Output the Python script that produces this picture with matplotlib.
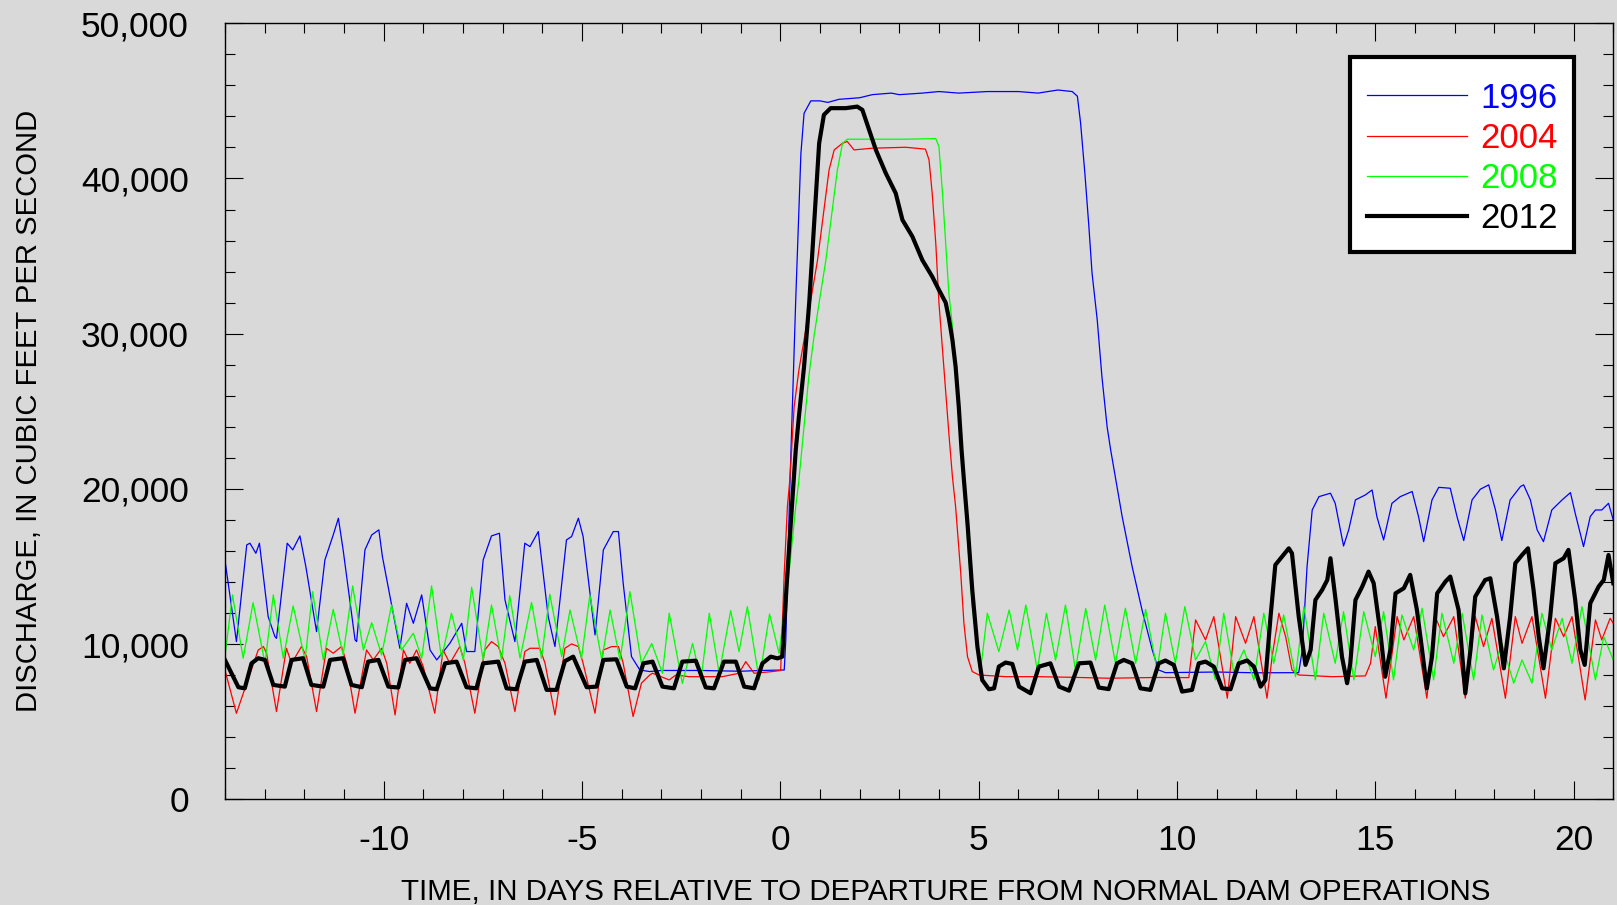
import matplotlib.pyplot as plt
from matplotlib.ticker import MultipleLocator, FuncFormatter

plt.rcParams['font.family'] = ['Liberation Sans', 'DejaVu Sans']
plt.rcParams['axes.unicode_minus'] = False

# values (days, cubic feet per second)
t_1996 = [-14.0, -13.71, -13.45, -13.37, -13.22, -13.13, -12.91, -12.74, -12.70, -12.43,
          -12.29, -12.11, -11.96, -11.69, -11.48, -11.27, -11.14, -11.02, -10.72, -10.68,
          -10.47, -10.30, -10.12, -10.03, -9.59, -9.42, -9.25, -9.04, -8.83, -8.66,
          -8.33, -8.03, -7.91, -7.70, -7.49, -7.28, -7.08, -6.94, -6.69, -6.44,
          -6.31, -6.10, -5.85, -5.68, -5.39, -5.26, -5.09, -4.97, -4.67, -4.46,
          -4.21, -4.08, -3.96, -3.75, -3.54, -3.29, -3.0, -2.0, -1.0, -0.5,
          0.10, 0.14, 0.24, 0.39, 0.52, 0.60, 0.77, 1.0, 1.2, 1.48,
          2.0, 2.32, 2.8, 3.0, 3.58, 4.0, 4.5, 5.22, 6.0, 6.5,
          7.0, 7.36, 7.49, 7.57, 7.68, 7.78, 7.86, 7.99, 8.11, 8.24,
          8.33, 8.62, 8.87, 9.12, 9.38, 9.54, 9.71, 11.0, 12.0, 13.07,
          13.16, 13.28, 13.41, 13.58, 13.87, 13.99, 14.20, 14.33, 14.50, 14.75,
          14.92, 15.04, 15.21, 15.42, 15.63, 15.93, 16.09, 16.22, 16.43, 16.60,
          16.89, 17.06, 17.23, 17.44, 17.65, 17.86, 18.03, 18.19, 18.40, 18.66,
          18.74, 18.91, 19.08, 19.24, 19.45, 19.71, 19.92, 20.04, 20.25, 20.42,
          20.55, 20.71, 20.88, 21.0]
q_1996 = [15420, 10160, 16390, 16500, 15850, 16500, 11770, 10480, 10370, 16500,
          16070, 16970, 14990, 10800, 15420, 17030, 18110, 16070, 10270, 10160,
          16070, 17030, 17360, 15640, 9730, 12630, 11340, 13170, 9620, 8980,
          10050, 11340, 9520, 9520, 15420, 16970, 17140, 12850, 10160, 16500,
          16280, 17250, 11770, 9840, 16710, 16930, 18110, 16930, 10590, 16070,
          17250, 17250, 13920, 9190, 8330, 8230, 8300, 8300, 8250, 8300,
          8330, 10300, 20000, 32200, 41600, 44200, 45000, 45000, 44900, 45100,
          45200, 45400, 45500, 45400, 45500, 45600, 45500, 45600, 45600, 45500,
          45700, 45600, 45300, 43600, 40300, 36900, 33900, 30900, 27200, 24000,
          22500, 18200, 15000, 12200, 9600, 8330, 8160, 8200, 8150, 8160,
          9620, 14990, 18640, 19500, 19720, 19070, 16320, 17360, 19290, 19610,
          19930, 18220, 16710, 19070, 19500, 19830, 18220, 16600, 19290, 20100,
          20040, 18220, 16670, 19290, 19980, 20260, 18640, 16670, 19290, 20150,
          20260, 19290, 17360, 16600, 18640, 19290, 19760, 18430, 16280, 18220,
          18640, 18640, 19070, 18000]

t_2004 = [-14.0, -13.71, -13.45, -13.16, -13.03, -12.95, -12.70, -12.45, -12.32, -12.07,
          -11.94, -11.69, -11.44, -11.27, -11.06, -10.93, -10.72, -10.43, -10.26, -10.05,
          -9.92, -9.71, -9.50, -9.34, -9.17, -9.00, -8.71, -8.50, -8.33, -8.08,
          -7.95, -7.70, -7.45, -7.28, -7.11, -6.94, -6.69, -6.44, -6.31, -6.06,
          -5.93, -5.68, -5.43, -5.26, -5.09, -4.97, -4.67, -4.46, -4.25, -4.08,
          -3.96, -3.71, -3.50, -3.29, -3.22, -2.80, -2.63, -2.30, -1.46, -1.04,
          -0.87, -0.66, -0.20, 0.01, 0.10, 0.18, 0.24, 0.35, 0.47, 0.60,
          0.77, 0.94, 1.10, 1.23, 1.36, 1.57, 1.69, 1.86, 2.32, 3.16,
          3.66, 3.75, 3.83, 3.92, 4.0, 4.09, 4.17, 4.25, 4.34, 4.42,
          4.55, 4.63, 4.72, 4.84, 5.01, 5.68, 6.52, 7.36, 8.28, 9.5,
          10.30, 10.47, 10.72, 10.93, 11.27, 11.48, 11.73, 11.94, 12.27, 12.40,
          12.57, 12.74, 12.90, 13.07, 13.91, 14.75, 14.88, 15.0, 15.27, 15.55,
          15.72, 15.97, 16.30, 16.51, 16.72, 16.98, 17.27, 17.52, 17.73, 17.94,
          18.28, 18.53, 18.70, 18.95, 19.29, 19.54, 19.75, 19.96, 20.29, 20.55,
          20.71, 20.92, 21.0]
q_2004 = [8330, 5540, 7480, 9620, 9840, 9410, 5650, 9730, 8760, 9840,
          9190, 5650, 9730, 9410, 9840, 8760, 5540, 9620, 8980, 9730,
          8760, 5430, 9620, 8760, 9620, 8550, 5540, 9620, 8760, 9840,
          8760, 5540, 9620, 10160, 9840, 8760, 5650, 9520, 9730, 9730,
          8760, 5430, 9730, 10010, 9840, 8760, 5540, 9620, 9840, 9840,
          8760, 5330, 7480, 8010, 8120, 7690, 8010, 7900, 7900, 8120,
          8870, 8120, 8230, 8300, 14560, 18860, 20570, 25300, 27670, 29600,
          32170, 34750, 37980, 40550, 41840, 42270, 42380, 41840, 41950, 42010,
          41890, 41200, 39050, 35830, 32000, 28950, 26160, 23580, 20780, 18860,
          14560, 11340, 9190, 8230, 8010, 7900, 7900, 7860, 7800, 7850,
          7840, 11560, 10270, 11770, 6510, 11770, 10050, 11770, 6510, 9190,
          11990, 10480, 8330, 8010, 7900, 7950, 8760, 11130, 6510, 11770,
          10270, 11770, 6510, 11770, 10480, 11770, 6510, 11770, 9840, 11660,
          6510, 11770, 10050, 11770, 6510, 11660, 10480, 11770, 6400, 11560,
          10270, 11660, 11340]

t_2008 = [-14.0, -13.81, -13.54, -13.29, -12.99, -12.78, -12.53, -12.28, -11.98, -11.79,
          -11.52, -11.27, -11.02, -10.78, -10.51, -10.30, -10.05, -9.80, -9.55, -9.25,
          -9.04, -8.79, -8.54, -8.29, -7.99, -7.78, -7.49, -7.28, -7.03, -6.82,
          -6.56, -6.27, -6.02, -5.81, -5.51, -5.30, -5.01, -4.80, -4.50, -4.29,
          -4.04, -3.79, -3.50, -3.24, -2.97, -2.80, -2.47, -2.21, -2.0, -1.79,
          -1.54, -1.25, -1.04, -0.83, -0.53, -0.27, -0.03, 0.22, 0.39, 0.47,
          0.60, 0.72, 0.85, 0.98, 1.15, 1.31, 1.44, 1.57, 1.69, 2.32,
          3.16, 3.92, 4.0, 4.09, 4.17, 4.25, 4.34, 4.42, 4.50, 4.59,
          4.72, 4.84, 4.97, 5.05, 5.22, 5.51, 5.77, 5.98, 6.19, 6.48,
          6.71, 6.94, 7.19, 7.44, 7.70, 7.95, 8.18, 8.45, 8.70, 8.96,
          9.21, 9.50, 9.71, 9.96, 10.20, 10.47, 10.72, 10.97, 11.18, 11.43,
          11.69, 11.94, 12.19, 12.44, 12.69, 12.99, 13.20, 13.49, 13.70, 13.99,
          14.20, 14.46, 14.71, 15.0, 15.21, 15.46, 15.67, 15.97, 16.18, 16.47,
          16.68, 16.98, 17.19, 17.48, 17.69, 17.98, 18.19, 18.49, 18.70, 18.95,
          19.20, 19.45, 19.71, 19.96, 20.21, 20.55, 20.76, 21.0]
q_2008 = [9190, 13170, 9090, 12670, 8760, 13170, 9090, 12460, 8980, 13380,
          8980, 12240, 9300, 13750, 9620, 11380, 9300, 12520, 9620, 10700,
          9090, 13750, 9090, 11990, 8980, 13660, 8980, 12520, 8980, 13120,
          9090, 12690, 9090, 13210, 9190, 12200, 9090, 13170, 8980, 12200,
          8980, 13380, 8760, 10040, 8120, 11990, 7470, 10040, 7690, 11990,
          8120, 12160, 9510, 12410, 7690, 11940, 9400, 14560, 18860, 20570,
          24010, 27240, 29810, 32000, 34750, 37980, 40550, 42270, 42530, 42530,
          42530, 42570, 42060, 39050, 35830, 32610, 30500, 27880, 24660, 21430,
          16710, 12410, 9830, 8330, 11990, 9510, 12200, 9620, 12520, 8330,
          11990, 8970, 12520, 8330, 12300, 8970, 12520, 8760, 12310, 8760,
          12240, 8330, 11990, 8760, 12420, 8980, 10160, 7690, 11990, 8230,
          9620, 7690, 11990, 8760, 11880, 7900, 12420, 7690, 11990, 8760,
          12090, 7690, 12090, 9190, 12090, 7690, 11880, 9620, 12310, 7690,
          11990, 8760, 11990, 7690, 11880, 8330, 10050, 7480, 8980, 7480,
          11990, 9620, 11660, 8760, 12420, 7690, 10480, 8980]

t_2012 = [-14.0, -13.66, -13.50, -13.33, -13.16, -12.99, -12.78, -12.49, -12.32, -12.03,
          -11.82, -11.52, -11.35, -11.02, -10.81, -10.55, -10.39, -10.13, -9.88, -9.63,
          -9.46, -9.17, -8.83, -8.66, -8.45, -8.16, -7.91, -7.66, -7.49, -7.11,
          -6.90, -6.65, -6.44, -6.14, -5.89, -5.64, -5.43, -5.22, -4.88, -4.63,
          -4.46, -4.13, -3.87, -3.66, -3.45, -3.22, -2.97, -2.68, -2.47, -2.13,
          -1.88, -1.67, -1.42, -1.12, -0.91, -0.66, -0.45, -0.24, -0.07, 0.05,
          0.18, 0.31, 0.39, 0.47, 0.60, 0.68, 0.73, 0.85, 0.98, 1.10,
          1.27, 1.65, 1.94, 2.07, 2.24, 2.41, 2.66, 2.91, 3.08, 3.33,
          3.58, 3.83, 4.0, 4.17, 4.25, 4.34, 4.42, 4.50, 4.57, 4.63,
          4.72, 4.84, 4.97, 5.09, 5.26, 5.39, 5.51, 5.68, 5.85, 6.02,
          6.31, 6.52, 6.81, 7.03, 7.28, 7.53, 7.82, 8.03, 8.28, 8.49,
          8.66, 8.87, 9.08, 9.33, 9.54, 9.71, 9.92, 10.13, 10.38, 10.55,
          10.72, 10.93, 11.14, 11.35, 11.56, 11.77, 11.94, 12.11, 12.23, 12.36,
          12.48, 12.65, 12.82, 12.90, 13.07, 13.24, 13.37, 13.49, 13.66, 13.79,
          13.87, 14.0, 14.16, 14.29, 14.37, 14.50, 14.67, 14.83, 14.96, 15.13,
          15.25, 15.38, 15.51, 15.72, 15.88, 16.05, 16.18, 16.30, 16.43, 16.56,
          16.77, 16.89, 17.10, 17.27, 17.40, 17.52, 17.77, 17.90, 18.07, 18.24,
          18.40, 18.53, 18.70, 18.85, 18.99, 19.12, 19.24, 19.41, 19.54, 19.75,
          19.87, 20.04, 20.17, 20.28, 20.42, 20.63, 20.76, 20.88, 21.0]
q_2012 = [8980, 7220, 7150, 8760, 9090, 8980, 7370, 7260, 8980, 9090,
          7370, 7260, 8980, 9090, 7370, 7220, 8870, 8980, 7260, 7200,
          8980, 9090, 7150, 7090, 8760, 8870, 7220, 7150, 8760, 8870,
          7150, 7090, 8870, 8980, 7050, 7050, 8900, 9190, 7220, 7260,
          8980, 9020, 7260, 7150, 8760, 8870, 7260, 7150, 8870, 8930,
          7210, 7150, 8870, 8870, 7260, 7150, 8760, 9190, 9080, 9190,
          14560, 19500, 22500, 24660, 27880, 30450, 32000, 36900, 42270, 44100,
          44530, 44530, 44630, 44420, 43130, 41840, 40340, 39050, 37330, 36260,
          34750, 33680, 32820, 32000, 31000, 29600, 27880, 25300, 22510, 20570,
          17780, 13490, 9830, 7690, 7090, 7150, 8550, 8810, 8720, 7260,
          6830, 8550, 8760, 7260, 7000, 8760, 8810, 7200, 7100, 8760,
          8980, 8760, 7150, 7050, 8760, 8940, 8660, 6940, 7050, 8760,
          8870, 8550, 7150, 7090, 8760, 8940, 8550, 7260, 7690, 11770,
          15100, 15640, 16170, 15850, 11770, 8660, 9620, 12840, 13490, 14130,
          15530, 12840, 9190, 7480, 8760, 12840, 13700, 14670, 13920, 10700,
          7900, 9620, 13270, 13600, 14460, 12200, 9620, 7150, 9190, 13270,
          14030, 14350, 12200, 6830, 9620, 13060, 14130, 14240, 11770, 8440,
          11770, 15210, 15740, 16170, 13490, 10480, 8440, 11770, 15210, 15530,
          16070, 12840, 9620, 8660, 12630, 13700, 14130, 15740, 13920]

bg = '#d9d9d9'
fig = plt.figure(figsize=(16.17, 9.05), dpi=100, facecolor=bg)
ax = fig.add_axes([0.1391, 0.1168, 0.8586, 0.8575])
ax.set_facecolor(bg)

ax.plot(t_1996, q_1996, color='#0000ff', lw=0.9, label='1996')
ax.plot(t_2004, q_2004, color='#ff0000', lw=0.9, label='2004')
ax.plot(t_2008, q_2008, color='#00ff00', lw=0.9, label='2008')
ax.plot(t_2012, q_2012, color='black', lw=3.0, label='2012')

ax.set_xlim(-14, 21)
ax.set_ylim(0, 50000)
ax.xaxis.set_major_locator(MultipleLocator(5))
ax.xaxis.set_minor_locator(MultipleLocator(1))
ax.yaxis.set_major_locator(MultipleLocator(10000))
ax.yaxis.set_minor_locator(MultipleLocator(2000))
ax.yaxis.set_major_formatter(FuncFormatter(lambda v, p: f'{v:,.0f}'))

ax.tick_params(which='both', direction='in', top=True, right=True, width=0.8, labelsize=25.5)
ax.tick_params(which='major', length=13)
ax.tick_params(which='minor', length=7)
ax.tick_params(axis='x', which='major', pad=18)
ax.tick_params(axis='y', which='major', pad=26)
for s in ax.spines.values():
    s.set_linewidth(1.0)

ax.set_xlabel('TIME, IN DAYS RELATIVE TO DEPARTURE FROM NORMAL DAM OPERATIONS', fontsize=21.3)
ax.set_ylabel('DISCHARGE, IN CUBIC FEET PER SECOND', fontsize=21.1)
ax.xaxis.set_label_coords(0.519, -0.101)
ax.yaxis.set_label_coords(-0.131, 0.5)

leg = ax.legend(loc='upper right', bbox_to_anchor=(0.972, 0.957), fontsize=25,
                title=' ', title_fontsize=1,
                fancybox=False, edgecolor='black', facecolor='white', framealpha=1,
                handlelength=2.88, handletextpad=0.38, labelspacing=0.21,
                borderpad=0.48, borderaxespad=0)
leg.get_frame().set_linewidth(3)
for txt, ln in zip(leg.get_texts(), leg.get_lines()):
    txt.set_color(ln.get_color())

fig.savefig('out.png', dpi=100, facecolor=bg)
